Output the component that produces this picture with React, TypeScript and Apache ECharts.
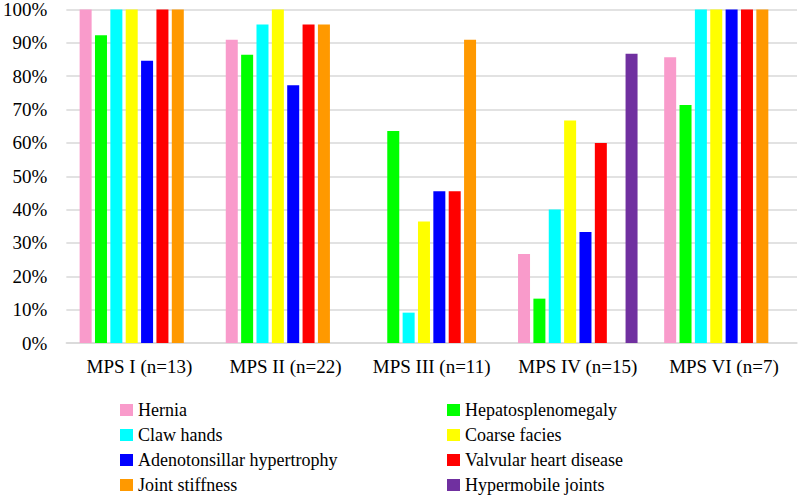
import React, { useEffect, useRef } from "react";
import * as echarts from "echarts";

const categories = ["MPS I (n=13)", "MPS II (n=22)", "MPS III (n=11)", "MPS IV (n=15)", "MPS VI (n=7)"];
const seriesNames = [
  "Hernia",
  "Hepatosplenomegaly",
  "Claw hands",
  "Coarse facies",
  "Adenotonsillar hypertrophy",
  "Valvular heart disease",
  "Joint stiffness",
  "Hypermobile joints",
];
const colors = ["#F99BCB", "#00FF00", "#00FFFF", "#FFFF00", "#0000FF", "#FF0000", "#FF9900", "#7030A0"];
const hernia = [100, 90.9, 0, 26.7, 85.7];
const hepatosplenomegaly = [92.3, 86.4, 63.6, 13.3, 71.4];
const clawHands = [100, 95.5, 9.1, 40, 100];
const coarseFacies = [100, 100, 36.4, 66.7, 100];
const adenotonsillar = [84.6, 77.3, 45.5, 33.3, 100];
const valvular = [100, 95.5, 45.5, 60, 100];
const jointStiffness = [100, 95.5, 90.9, 0, 100];
const hypermobile = [0, 0, 0, 86.7, 0];
const seriesValues = [hernia, hepatosplenomegaly, clawHands, coarseFacies, adenotonsillar, valvular, jointStiffness, hypermobile];

const FONT = "Liberation Serif";

export default function App() {
  const ref = useRef<HTMLDivElement>(null);
  useEffect(() => {
    if (!ref.current) return;
    const chart = echarts.init(ref.current, undefined, { renderer: "svg" });
    const legendCommon = {
      orient: "vertical" as const,
      top: 400,
      padding: 0,
      icon: "rect",
      itemWidth: 13,
      itemHeight: 12,
      itemGap: 5,
      textStyle: { fontFamily: FONT, fontSize: 18, color: "#000", lineHeight: 20 },
      selectedMode: false,
    };
    chart.setOption({
      animation: false,
      backgroundColor: "#fff",
      grid: { left: 66, right: 1, top: 8, bottom: 152, containLabel: false },
      legend: [
        { ...legendCommon, left: 120, data: [seriesNames[0], seriesNames[2], seriesNames[4], seriesNames[6]] },
        { ...legendCommon, left: 447, data: [seriesNames[1], seriesNames[3], seriesNames[5], seriesNames[7]] },
      ],
      xAxis: {
        type: "category",
        data: categories,
        axisLine: { lineStyle: { color: "#D9D9D9", width: 1.5 } },
        axisTick: { show: false },
        axisLabel: { fontFamily: FONT, fontSize: 19, color: "#000", margin: 14, interval: 0 },
      },
      yAxis: {
        type: "value",
        min: 0,
        max: 100,
        interval: 10,
        axisLine: { show: false },
        axisTick: { show: false },
        axisLabel: { formatter: "{value}%", fontFamily: FONT, fontSize: 19, color: "#000", margin: 19 },
        splitLine: { lineStyle: { color: "#D9D9D9", width: 1.5 } },
      },
      series: seriesNames.map((name, i) => ({
        name,
        type: "bar",
        data: seriesValues[i],
        barWidth: 12,
        barGap: "28%",
        itemStyle: { color: colors[i] },
      })),
    });
    return () => chart.dispose();
  }, []);
  return <div ref={ref} style={{ width: 798, height: 495, position: "absolute", left: 0, top: 0 }} />;
}
